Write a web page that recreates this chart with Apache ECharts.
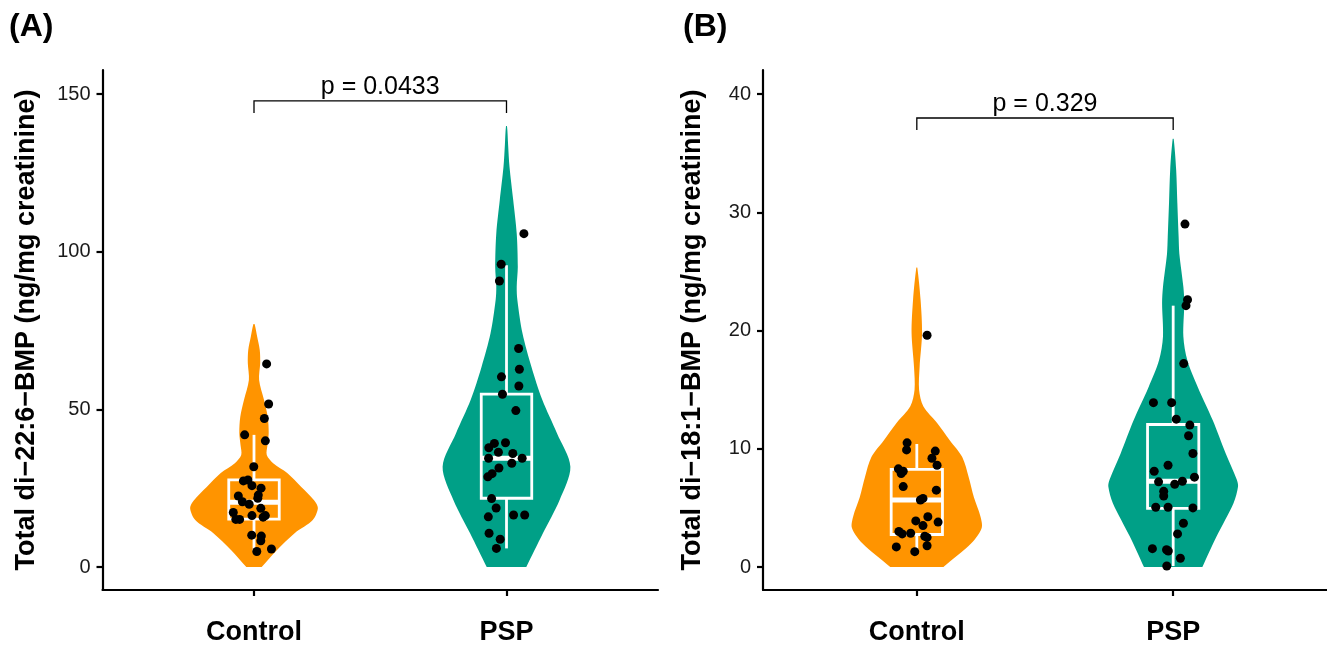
<!DOCTYPE html>
<html>
<head>
<meta charset="utf-8">
<script src="https://cdn.jsdelivr.net/npm/echarts@6/dist/echarts.min.js"></script>
<style>
html,body{margin:0;padding:0;background:#fff;}
#chart{width:1327px;height:647px;}
</style>
</head>
<body>
<div id="chart"></div>
<script>
// ---------- data ----------
const categories = ['Control', 'PSP'];

// Panel A: Total di-22:6-BMP
const aYTicks = [0, 50, 100, 150];
const aCtrlJitter = [0.050,0.058,0.041,-0.037,0.045,-0.001,-0.042,-0.024,-0.008,0.028,0.017,0.015,-0.062,-0.046,-0.019,0.027,-0.082,-0.008,-0.072,-0.057,0.036,0.045,-0.009,0.029,0.027,0.011,0.069];
const aCtrlValues = [64.4,51.7,47.1,41.9,40.0,31.8,27.3,27.6,25.8,25.0,22.8,21.8,22.5,20.7,19.9,18.6,17.3,16.3,15.1,15.1,15.8,16.3,10.1,9.8,8.3,4.9,5.7];
const aPspJitter = [0.069,-0.021,-0.028,0.048,0.051,-0.020,0.049,-0.016,0.037,-0.070,-0.048,-0.004,-0.032,0.025,-0.071,0.062,0.021,-0.030,-0.057,-0.074,-0.059,-0.041,-0.072,0.028,0.072,-0.069,-0.025,-0.040];
const aPspValues = [105.7,96.0,90.7,69.3,62.7,60.3,57.4,54.8,49.6,37.8,39.2,39.4,36.4,36.0,34.5,34.5,32.9,31.4,29.6,28.6,21.7,18.7,15.9,16.5,16.5,10.7,8.8,5.9];
// box stats: [lower whisker, Q1, median, Q3, upper whisker]
const aCtrlBox = [4.9, 15.2, 20.5, 27.6, 41.9];
const aPspBox = [5.9, 21.8, 34.5, 54.8, 95.7];
// violin density profiles (value, relative density)
const aCtrlViolinY = [0, 5.4, 10.8, 14.9, 18.7, 21.2, 25.4, 29.8, 32.9, 35.5, 38.5, 42.5, 47.6, 53, 59.3, 64.7, 68.8, 73, 77];
const aCtrlViolinD = [0.12, 0.36, 0.64, 0.92, 1.0, 0.94, 0.74, 0.52, 0.30, 0.20, 0.21, 0.23, 0.215, 0.156, 0.08, 0.097, 0.09, 0.05, 0.01];
const aPspViolinY = [0, 10.7, 21.2, 31.8, 42.4, 53, 63.5, 74.1, 84.7, 88.9, 95.2, 105.8, 116.4, 126.9, 134, 139.8];
const aPspViolinD = [0.31, 0.57, 0.83, 1.0, 0.79, 0.56, 0.39, 0.25, 0.17, 0.16, 0.177, 0.16, 0.105, 0.047, 0.025, 0.008];
const aBracketY = [143.97, 147.8];
const aPLabel = 'p = 0.0433';

// Panel B: Total di-18:1-BMP
const bYTicks = [0, 10, 20, 30, 40];
const bCtrlJitter = [0.040,-0.038,-0.040,0.072,0.059,0.079,-0.072,-0.053,-0.061,-0.053,0.076,0.014,0.024,0.043,-0.004,0.083,0.024,-0.070,-0.057,-0.024,0.031,0.040,0.040,-0.080,-0.008];
const bCtrlValues = [19.6,10.5,9.9,9.8,9.2,8.6,8.3,8.1,7.9,6.8,6.5,5.67,5.8,4.25,3.9,3.8,3.5,3.0,2.8,2.85,2.6,2.5,1.8,1.7,1.3];
const bPspJitter = [0.046,0.056,0.050,0.041,-0.077,-0.006,0.012,0.065,0.060,0.077,-0.020,-0.074,0.083,-0.057,0.036,0.006,-0.037,-0.037,-0.068,-0.020,0.077,0.040,0.017,-0.081,-0.026,-0.019,0.028,-0.025];
const bPspValues = [29.0,22.6,22.1,17.2,13.9,13.9,12.5,12.0,11.1,9.6,8.6,8.1,7.6,7.2,7.25,7.0,6.4,6.0,5.05,5.05,5.0,3.7,2.8,1.55,1.46,1.35,0.74,0.08];
const bCtrlBox = [1.3, 2.75, 5.67, 8.25, 10.4];
const bPspBox = [0.08, 4.95, 7.25, 12.05, 22.1];
const bCtrlViolinY = [0, 2.0, 3.3, 4.3, 5.9, 7.6, 9.3, 10.7, 12.2, 13.6, 15.0, 16.9, 19.8, 22.6, 25.3];
const bCtrlViolinD = [0.41, 0.84, 1.0, 0.98, 0.88, 0.80, 0.70, 0.51, 0.31, 0.10, 0.035, 0.043, 0.081, 0.058, 0.008];
const bPspViolinY = [0, 2.6, 5.4, 6.8, 7.4, 9.6, 12.4, 15.2, 17.5, 19.5, 22.3, 23.7, 26.5, 27.9, 30.8, 33.6, 36.2];
const bPspViolinD = [0.45, 0.67, 0.93, 1.0, 0.98, 0.81, 0.61, 0.38, 0.217, 0.157, 0.171, 0.157, 0.095, 0.084, 0.064, 0.046, 0.008];
const bBracketY = [36.96, 37.97];
const bPLabel = 'p = 0.329';

// ---------- styles ----------
const FONT = '"Liberation Sans", Arial, Helvetica, sans-serif';
const COL_CTRL = '#FF9400';
const COL_PSP = '#00A087';
const VIOLIN_HALF = 0.253;
const BOX_HALF = 0.1;

function violinSeries(idx, cx, ys, ds, color) {
  return {
    type: 'custom', xAxisIndex: idx, yAxisIndex: idx, z: 1, silent: true,
    data: [[cx, ys[0]]],
    renderItem: function (params, api) {
      const pts = [];
      const n = ys.length;
      // bottom-right corner doubled so the trimmed bottom stays flat and sharp
      pts.push(api.coord([cx - ds[0] * VIOLIN_HALF, ys[0]]));
      for (let i = 0; i < n; i++) {
        const p = api.coord([cx + ds[i] * VIOLIN_HALF, ys[i]]);
        pts.push(p);
        if (i === 0) pts.push(p.slice());
      }
      for (let i = n - 1; i >= 0; i--) {
        const p = api.coord([cx - ds[i] * VIOLIN_HALF, ys[i]]);
        pts.push(p);
      }
      return { type: 'polygon', shape: { points: pts, smooth: 0.3 }, style: { fill: color, stroke: null } };
    }
  };
}
function boxSeries(idx, cx, s) {
  return {
    type: 'custom', xAxisIndex: idx, yAxisIndex: idx, z: 2, silent: true,
    data: [[cx, s[2]]],
    renderItem: function (params, api) {
      const l = api.coord([cx - BOX_HALF, s[3]]);
      const r = api.coord([cx + BOX_HALF, s[1]]);
      const c = api.coord([cx, s[2]]);
      const lo = api.coord([cx, s[0]]);
      const hi = api.coord([cx, s[4]]);
      const q1 = api.coord([cx, s[1]]);
      const q3 = api.coord([cx, s[3]]);
      const st = { stroke: '#fff', lineWidth: 2.8, fill: null };
      return {
        type: 'group', children: [
          { type: 'line', shape: { x1: c[0], y1: q3[1], x2: hi[0], y2: hi[1] }, style: st },
          { type: 'line', shape: { x1: c[0], y1: q1[1], x2: lo[0], y2: lo[1] }, style: st },
          { type: 'rect', shape: { x: l[0], y: l[1], width: r[0] - l[0], height: r[1] - l[1] }, style: st },
          { type: 'line', shape: { x1: l[0], y1: c[1], x2: r[0], y2: c[1] }, style: { stroke: '#fff', lineWidth: 5 } }
        ]
      };
    }
  };
}
function pointsSeries(idx, jitters, values) {
  const data = [];
  jitters.forEach(function (js, g) {
    js.forEach(function (j, i) { data.push([g + 1 + j, values[g][i]]); });
  });
  return {
    type: 'scatter', xAxisIndex: idx, yAxisIndex: idx, z: 3, silent: true,
    symbol: 'circle', symbolSize: 9, itemStyle: { color: '#000', opacity: 1 }, data: data
  };
}
function bracketSeries(idx, yv, label) {
  return {
    type: 'custom', xAxisIndex: idx, yAxisIndex: idx, z: 4, silent: true,
    data: [[1.5, yv[1]]],
    renderItem: function (params, api) {
      const p1 = api.coord([1, yv[0]]);
      const p2 = api.coord([1, yv[1]]);
      const p3 = api.coord([2, yv[1]]);
      const p4 = api.coord([2, yv[0]]);
      const mid = api.coord([1.5, yv[1]]);
      return {
        type: 'group', children: [
          { type: 'polyline', shape: { points: [p1, p2, p3, p4] }, style: { stroke: '#000', lineWidth: 1.3, fill: null } },
          { type: 'text', x: mid[0], y: mid[1] - 1, style: { text: label, align: 'center', verticalAlign: 'bottom', fontSize: 25, fontFamily: FONT, fill: '#000' } }
        ]
      };
    }
  };
}
function xAxisCfg(idx) {
  return {
    type: 'value', gridIndex: idx, min: 0.4, max: 2.6,
    axisLine: { onZero: false, lineStyle: { color: '#000', width: 2.2 } },
    axisTick: { customValues: [1, 2], length: 6, lineStyle: { color: '#000', width: 2.2 } },
    axisLabel: {
      customValues: [1, 2], margin: 29,
      formatter: function (v) { return categories[Math.round(v) - 1]; },
      fontSize: 27, fontWeight: 'bold', color: '#000', fontFamily: FONT
    },
    splitLine: { show: false }
  };
}
function yAxisCfg(idx, min, max, ticks, name, gap) {
  return {
    type: 'value', gridIndex: idx, min: min, max: max,
    name: name, nameLocation: 'middle', nameGap: gap, nameRotate: 90,
    nameTextStyle: { fontSize: 27, fontWeight: 'bold', color: '#000', fontFamily: FONT },
    axisLine: { show: true, onZero: false, lineStyle: { color: '#000', width: 2.2 } },
    axisTick: { show: true, customValues: ticks, length: 6, lineStyle: { color: '#000', width: 2.2 } },
    axisLabel: { customValues: ticks, margin: 12, fontSize: 20, color: '#1a1a1a', fontFamily: FONT },
    splitLine: { show: false }
  };
}

const chart = echarts.init(document.getElementById('chart'), null, { renderer: 'canvas' });
chart.setOption({
  animation: false,
  backgroundColor: '#fff',
  grid: [
    { left: 102.5, top: 70, width: 555.5, height: 520 },
    { left: 763, top: 70, width: 567.6, height: 520 }
  ],
  xAxis: [xAxisCfg(0), xAxisCfg(1)],
  yAxis: [
    yAxisCfg(0, -7.294, 157.61, aYTicks, 'Total di\u221222:6\u2212BMP (ng/mg creatinine)', 62),
    yAxisCfg(1, -1.945, 42.03, bYTicks, 'Total di\u221218:1\u2212BMP (ng/mg creatinine)', 57)
  ],
  graphic: [
    { type: 'text', left: 9, top: 11, style: { text: '(A)', fontSize: 32, fontWeight: 'bold', fontFamily: FONT, fill: '#000' } },
    { type: 'text', left: 683, top: 11, style: { text: '(B)', fontSize: 32, fontWeight: 'bold', fontFamily: FONT, fill: '#000' } }
  ],
  series: [
    violinSeries(0, 1, aCtrlViolinY, aCtrlViolinD, COL_CTRL),
    violinSeries(0, 2, aPspViolinY, aPspViolinD, COL_PSP),
    boxSeries(0, 1, aCtrlBox),
    boxSeries(0, 2, aPspBox),
    pointsSeries(0, [aCtrlJitter, aPspJitter], [aCtrlValues, aPspValues]),
    bracketSeries(0, aBracketY, aPLabel),
    violinSeries(1, 1, bCtrlViolinY, bCtrlViolinD, COL_CTRL),
    violinSeries(1, 2, bPspViolinY, bPspViolinD, COL_PSP),
    boxSeries(1, 1, bCtrlBox),
    boxSeries(1, 2, bPspBox),
    pointsSeries(1, [bCtrlJitter, bPspJitter], [bCtrlValues, bPspValues]),
    bracketSeries(1, bBracketY, bPLabel)
  ]
});
</script>
</body>
</html>
